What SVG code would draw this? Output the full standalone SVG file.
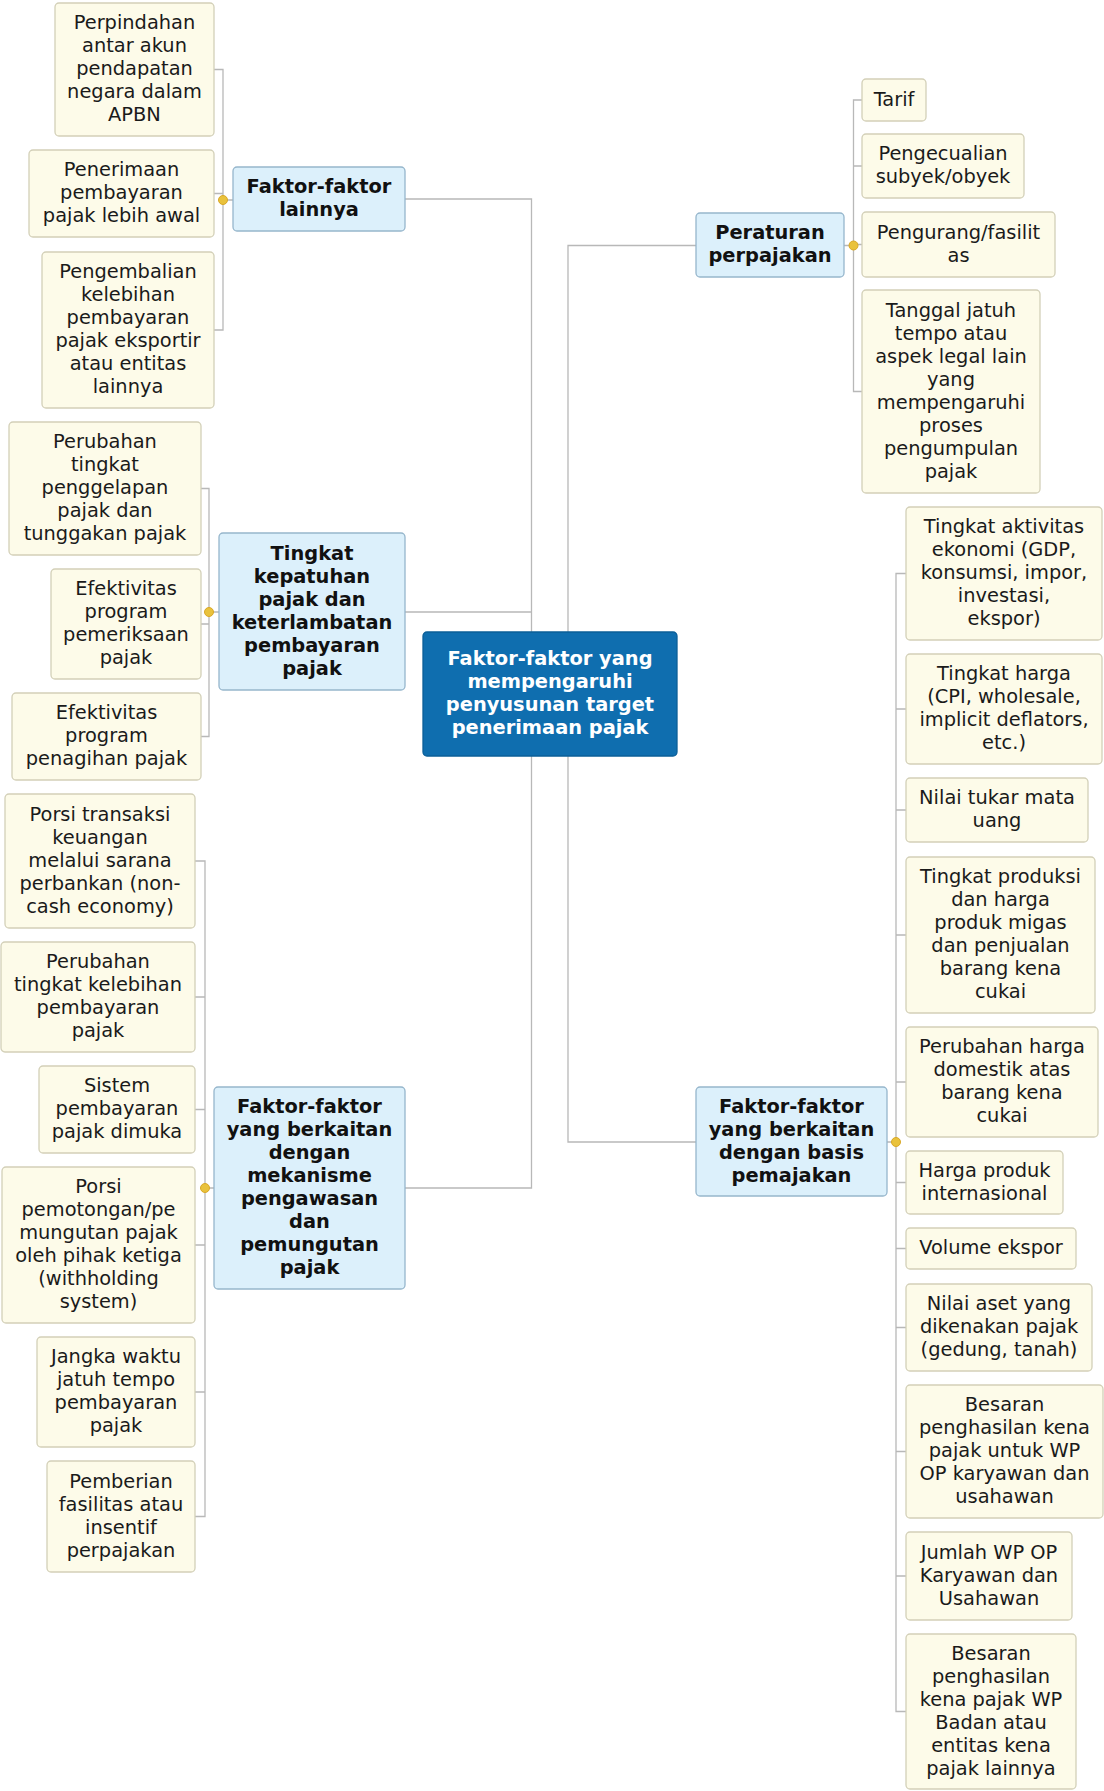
<svg xmlns="http://www.w3.org/2000/svg" width="1104" height="1791" viewBox="0 0 1104 1791">
<style>
text{font-family:"DejaVu Sans","Verdana",sans-serif;font-size:19.4px;text-anchor:middle;fill:#1a1a1a}
.leaf rect{fill:#fdfbe9;stroke:#d3d0b8;stroke-width:1.3}
.topic rect{fill:#dcf0fb;stroke:#96b6cc;stroke-width:1.3}
.topic text{font-weight:bold;fill:#111}
.center rect{fill:#0f6eaf;stroke:#0b5f98;stroke-width:1.3}
.center text{font-weight:bold;fill:#ffffff}
.conn path{fill:none;stroke:#b8b8b8;stroke-width:1.3}
.conn circle{fill:#e9c23c;stroke:#d9a828;stroke-width:1}
</style>
<rect width="1104" height="1791" fill="#ffffff"/>
<g id="connectors" class="conn">
<path d="M405,199 H531.5 V1188 H405 M405,612 H531.5"/>
<path d="M696,245.5 H568 V1142 H696"/>
<path d="M214,69.5 H223 V330 H214 M214,193.5 H223 M223,200 H233"/>
<path d="M201,488.5 H209 V736.5 H201 M201,624 H209 M209,612 H219"/>
<path d="M195,861 H205 V1516.5 H195 M195,997 H205 M195,1109.5 H205 M195,1245 H205 M195,1392 H205 M205,1188 H214"/>
<path d="M862,100 H853.5 V391.5 H862 M853.5,166 H862 M853.5,244.5 H862 M844,245.5 H853.5"/>
<path d="M906,573.5 H896 V1711.5 H906 M896,709 H906 M896,810 H906 M896,935 H906 M896,1082 H906 M896,1182.5 H906 M896,1248.5 H906 M896,1327.5 H906 M896,1451.5 H906 M896,1576 H906 M887,1142 H896"/>
<circle cx="223" cy="200" r="4.5"/>
<circle cx="209" cy="612" r="4.5"/>
<circle cx="205" cy="1188" r="4.5"/>
<circle cx="853.5" cy="245.5" r="4.5"/>
<circle cx="896" cy="1142" r="4.5"/>
</g>
<g id="center" class="center">
<rect x="423" y="632" width="254" height="124" rx="4"/>
<text><tspan x="550" y="665">Faktor-faktor yang</tspan><tspan x="550" y="688">mempengaruhi</tspan><tspan x="550" y="711">penyusunan target</tspan><tspan x="550" y="734">penerimaan pajak</tspan></text>
</g>
<g id="t-lainnya" class="topic">
<rect x="233" y="167" width="172" height="64" rx="4"/>
<text><tspan x="319" y="193">Faktor-faktor</tspan><tspan x="319" y="216">lainnya</tspan></text>
</g>
<g id="l-perpindahan" class="leaf">
<rect x="55" y="3" width="159" height="133" rx="4"/>
<text><tspan x="134.5" y="29">Perpindahan</tspan><tspan x="134.5" y="52">antar akun</tspan><tspan x="134.5" y="75">pendapatan</tspan><tspan x="134.5" y="98">negara dalam</tspan><tspan x="134.5" y="121">APBN</tspan></text>
</g>
<g id="l-penerimaan" class="leaf">
<rect x="29" y="150" width="185" height="87" rx="4"/>
<text><tspan x="121.5" y="176">Penerimaan</tspan><tspan x="121.5" y="199">pembayaran</tspan><tspan x="121.5" y="222">pajak lebih awal</tspan></text>
</g>
<g id="l-pengembalian" class="leaf">
<rect x="42" y="252" width="172" height="156" rx="4"/>
<text><tspan x="128" y="278">Pengembalian</tspan><tspan x="128" y="301">kelebihan</tspan><tspan x="128" y="324">pembayaran</tspan><tspan x="128" y="347">pajak eksportir</tspan><tspan x="128" y="370">atau entitas</tspan><tspan x="128" y="393">lainnya</tspan></text>
</g>
<g id="t-kepatuhan" class="topic">
<rect x="219" y="533" width="186" height="157" rx="4"/>
<text><tspan x="312" y="559.5">Tingkat</tspan><tspan x="312" y="582.5">kepatuhan</tspan><tspan x="312" y="605.5">pajak dan</tspan><tspan x="312" y="628.5">keterlambatan</tspan><tspan x="312" y="651.5">pembayaran</tspan><tspan x="312" y="674.5">pajak</tspan></text>
</g>
<g id="l-penggelapan" class="leaf">
<rect x="9" y="422" width="192" height="133" rx="4"/>
<text><tspan x="105" y="448">Perubahan</tspan><tspan x="105" y="471">tingkat</tspan><tspan x="105" y="494">penggelapan</tspan><tspan x="105" y="517">pajak dan</tspan><tspan x="105" y="540">tunggakan pajak</tspan></text>
</g>
<g id="l-pemeriksaan" class="leaf">
<rect x="51" y="569" width="150" height="110" rx="4"/>
<text><tspan x="126" y="595">Efektivitas</tspan><tspan x="126" y="618">program</tspan><tspan x="126" y="641">pemeriksaan</tspan><tspan x="126" y="664">pajak</tspan></text>
</g>
<g id="l-penagihan" class="leaf">
<rect x="12" y="693" width="189" height="87" rx="4"/>
<text><tspan x="106.5" y="719">Efektivitas</tspan><tspan x="106.5" y="742">program</tspan><tspan x="106.5" y="765">penagihan pajak</tspan></text>
</g>
<g id="t-mekanisme" class="topic">
<rect x="214" y="1087" width="191" height="202" rx="4"/>
<text><tspan x="309.5" y="1113">Faktor-faktor</tspan><tspan x="309.5" y="1136">yang berkaitan</tspan><tspan x="309.5" y="1159">dengan</tspan><tspan x="309.5" y="1182">mekanisme</tspan><tspan x="309.5" y="1205">pengawasan</tspan><tspan x="309.5" y="1228">dan</tspan><tspan x="309.5" y="1251">pemungutan</tspan><tspan x="309.5" y="1274">pajak</tspan></text>
</g>
<g id="l-noncash" class="leaf">
<rect x="5" y="794" width="190" height="134" rx="4"/>
<text><tspan x="100" y="820.5">Porsi transaksi</tspan><tspan x="100" y="843.5">keuangan</tspan><tspan x="100" y="866.5">melalui sarana</tspan><tspan x="100" y="889.5">perbankan (non-</tspan><tspan x="100" y="912.5">cash economy)</tspan></text>
</g>
<g id="l-kelebihan" class="leaf">
<rect x="1" y="942" width="194" height="110" rx="4"/>
<text><tspan x="98" y="968">Perubahan</tspan><tspan x="98" y="991">tingkat kelebihan</tspan><tspan x="98" y="1014">pembayaran</tspan><tspan x="98" y="1037">pajak</tspan></text>
</g>
<g id="l-dimuka" class="leaf">
<rect x="39" y="1066" width="156" height="87" rx="4"/>
<text><tspan x="117" y="1092">Sistem</tspan><tspan x="117" y="1115">pembayaran</tspan><tspan x="117" y="1138">pajak dimuka</tspan></text>
</g>
<g id="l-withholding" class="leaf">
<rect x="2" y="1167" width="193" height="156" rx="4"/>
<text><tspan x="98.5" y="1193">Porsi</tspan><tspan x="98.5" y="1216">pemotongan/pe</tspan><tspan x="98.5" y="1239">mungutan pajak</tspan><tspan x="98.5" y="1262">oleh pihak ketiga</tspan><tspan x="98.5" y="1285">(withholding</tspan><tspan x="98.5" y="1308">system)</tspan></text>
</g>
<g id="l-jangka" class="leaf">
<rect x="37" y="1337" width="158" height="110" rx="4"/>
<text><tspan x="116" y="1363">Jangka waktu</tspan><tspan x="116" y="1386">jatuh tempo</tspan><tspan x="116" y="1409">pembayaran</tspan><tspan x="116" y="1432">pajak</tspan></text>
</g>
<g id="l-insentif" class="leaf">
<rect x="47" y="1461" width="148" height="111" rx="4"/>
<text><tspan x="121" y="1487.5">Pemberian</tspan><tspan x="121" y="1510.5">fasilitas atau</tspan><tspan x="121" y="1533.5">insentif</tspan><tspan x="121" y="1556.5">perpajakan</tspan></text>
</g>
<g id="t-peraturan" class="topic">
<rect x="696" y="213" width="148" height="64" rx="4"/>
<text><tspan x="770" y="239">Peraturan</tspan><tspan x="770" y="262">perpajakan</tspan></text>
</g>
<g id="l-tarif" class="leaf">
<rect x="862" y="79" width="64" height="42" rx="4"/>
<text><tspan x="894" y="105.5">Tarif</tspan></text>
</g>
<g id="l-pengecualian" class="leaf">
<rect x="862" y="134" width="162" height="64" rx="4"/>
<text><tspan x="943" y="160">Pengecualian</tspan><tspan x="943" y="183">subyek/obyek</tspan></text>
</g>
<g id="l-pengurang" class="leaf">
<rect x="862" y="212" width="193" height="65" rx="4"/>
<text><tspan x="958.5" y="238.5">Pengurang/fasilit</tspan><tspan x="958.5" y="261.5">as</tspan></text>
</g>
<g id="l-tanggal" class="leaf">
<rect x="862" y="290" width="178" height="203" rx="4"/>
<text><tspan x="951" y="316.5">Tanggal jatuh</tspan><tspan x="951" y="339.5">tempo atau</tspan><tspan x="951" y="362.5">aspek legal lain</tspan><tspan x="951" y="385.5">yang</tspan><tspan x="951" y="408.5">mempengaruhi</tspan><tspan x="951" y="431.5">proses</tspan><tspan x="951" y="454.5">pengumpulan</tspan><tspan x="951" y="477.5">pajak</tspan></text>
</g>
<g id="t-basis" class="topic">
<rect x="696" y="1087" width="191" height="109" rx="4"/>
<text><tspan x="791.5" y="1112.5">Faktor-faktor</tspan><tspan x="791.5" y="1135.5">yang berkaitan</tspan><tspan x="791.5" y="1158.5">dengan basis</tspan><tspan x="791.5" y="1181.5">pemajakan</tspan></text>
</g>
<g id="l-ekonomi" class="leaf">
<rect x="906" y="507" width="196" height="133" rx="4"/>
<text><tspan x="1004" y="533">Tingkat aktivitas</tspan><tspan x="1004" y="556">ekonomi (GDP,</tspan><tspan x="1004" y="579">konsumsi, impor,</tspan><tspan x="1004" y="602">investasi,</tspan><tspan x="1004" y="625">ekspor)</tspan></text>
</g>
<g id="l-harga" class="leaf">
<rect x="906" y="654" width="196" height="110" rx="4"/>
<text><tspan x="1004" y="680">Tingkat harga</tspan><tspan x="1004" y="703">(CPI, wholesale,</tspan><tspan x="1004" y="726">implicit deflators,</tspan><tspan x="1004" y="749">etc.)</tspan></text>
</g>
<g id="l-kurs" class="leaf">
<rect x="906" y="778" width="182" height="64" rx="4"/>
<text><tspan x="997" y="804">Nilai tukar mata</tspan><tspan x="997" y="827">uang</tspan></text>
</g>
<g id="l-produksi" class="leaf">
<rect x="906" y="857" width="189" height="156" rx="4"/>
<text><tspan x="1000.5" y="883">Tingkat produksi</tspan><tspan x="1000.5" y="906">dan harga</tspan><tspan x="1000.5" y="929">produk migas</tspan><tspan x="1000.5" y="952">dan penjualan</tspan><tspan x="1000.5" y="975">barang kena</tspan><tspan x="1000.5" y="998">cukai</tspan></text>
</g>
<g id="l-domestik" class="leaf">
<rect x="906" y="1027" width="192" height="110" rx="4"/>
<text><tspan x="1002" y="1053">Perubahan harga</tspan><tspan x="1002" y="1076">domestik atas</tspan><tspan x="1002" y="1099">barang kena</tspan><tspan x="1002" y="1122">cukai</tspan></text>
</g>
<g id="l-internasional" class="leaf">
<rect x="906" y="1151" width="157" height="63" rx="4"/>
<text><tspan x="984.5" y="1176.5">Harga produk</tspan><tspan x="984.5" y="1199.5">internasional</tspan></text>
</g>
<g id="l-volume" class="leaf">
<rect x="906" y="1228" width="170" height="41" rx="4"/>
<text><tspan x="991" y="1254">Volume ekspor</tspan></text>
</g>
<g id="l-aset" class="leaf">
<rect x="906" y="1284" width="186" height="87" rx="4"/>
<text><tspan x="999" y="1310">Nilai aset yang</tspan><tspan x="999" y="1333">dikenakan pajak</tspan><tspan x="999" y="1356">(gedung, tanah)</tspan></text>
</g>
<g id="l-pkp-op" class="leaf">
<rect x="906" y="1385" width="197" height="133" rx="4"/>
<text><tspan x="1004.5" y="1411">Besaran</tspan><tspan x="1004.5" y="1434">penghasilan kena</tspan><tspan x="1004.5" y="1457">pajak untuk WP</tspan><tspan x="1004.5" y="1480">OP karyawan dan</tspan><tspan x="1004.5" y="1503">usahawan</tspan></text>
</g>
<g id="l-jumlah" class="leaf">
<rect x="906" y="1532" width="166" height="88" rx="4"/>
<text><tspan x="989" y="1558.5">Jumlah WP OP</tspan><tspan x="989" y="1581.5">Karyawan dan</tspan><tspan x="989" y="1604.5">Usahawan</tspan></text>
</g>
<g id="l-pkp-badan" class="leaf">
<rect x="906" y="1634" width="170" height="155" rx="4"/>
<text><tspan x="991" y="1659.5">Besaran</tspan><tspan x="991" y="1682.5">penghasilan</tspan><tspan x="991" y="1705.5">kena pajak WP</tspan><tspan x="991" y="1728.5">Badan atau</tspan><tspan x="991" y="1751.5">entitas kena</tspan><tspan x="991" y="1774.5">pajak lainnya</tspan></text>
</g>
</svg>
